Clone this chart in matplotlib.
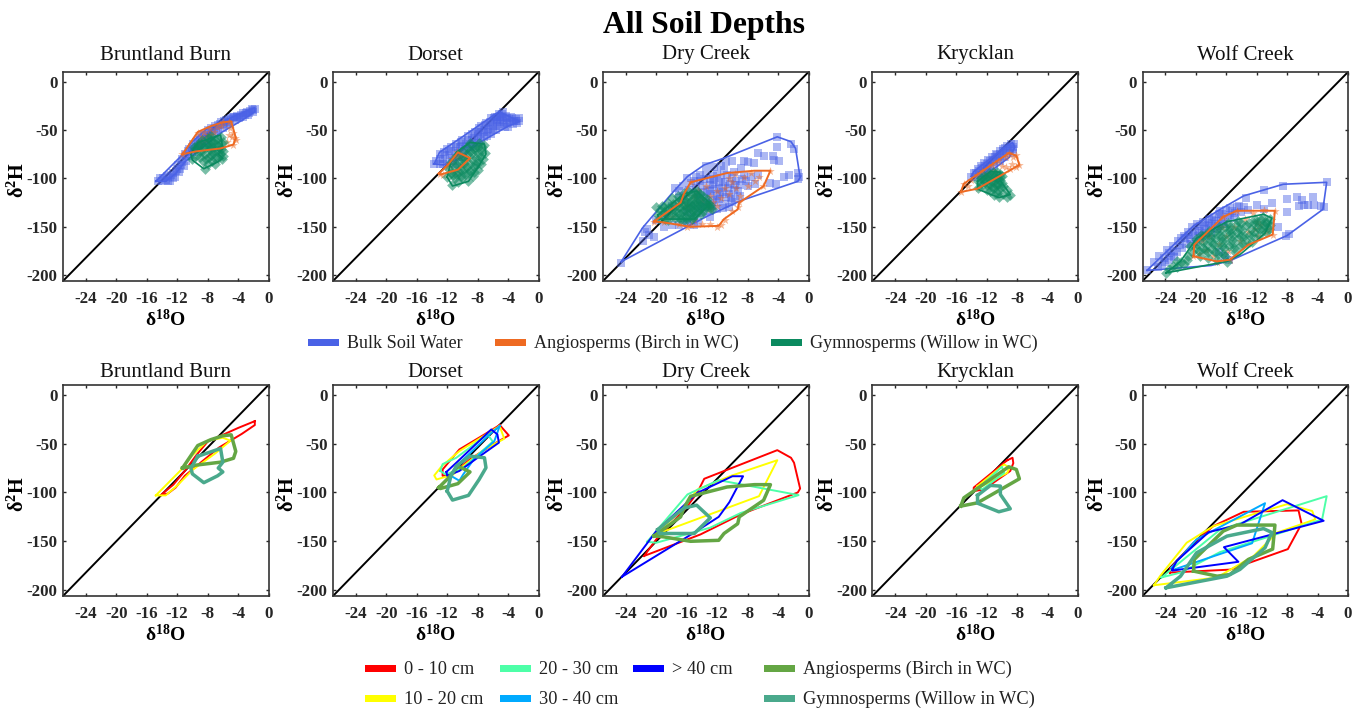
import numpy as np
import matplotlib
matplotlib.use('Agg')
import matplotlib.pyplot as plt
from matplotlib.patches import Rectangle

plt.rcParams['font.family'] = ['Liberation Serif', 'DejaVu Serif']
plt.rcParams['mathtext.default'] = 'regular'
plt.rcParams['axes.unicode_minus'] = False

sites = ['Bruntland Burn', 'Dorset', 'Dry Creek', 'Krycklan', 'Wolf Creek']
x_ticks = [-24, -20, -16, -12, -8, -4, 0]
y_ticks = [0, -50, -100, -150, -200]
depth_labels = ['0 - 10 cm', '10 - 20 cm', '20 - 30 cm', '30 - 40 cm', '> 40 cm']
soil_label = 'Bulk Soil Water'
angio_label = 'Angiosperms (Birch in WC)'
gymno_label = 'Gymnosperms (Willow in WC)'

# ---- samples ----
bb_soil = [(-14.5,-103),(-14,-103),(-13.5,-102),(-13.2,-99),(-13,-103),(-12.8,-96),(-12.5,-94),(-12.3,-98),(-12,-90),(-11.8,-93),(-11.5,-86),(-11.3,-80),(-11,-75),(-10.8,-82),(-10.6,-72),(-10.3,-77),(-10,-68),(-9.8,-73),(-9.5,-62),(-9.3,-68),(-9,-58),(-8.8,-63),(-8.5,-55),(-8.2,-61),(-8,-50),(-7.7,-56),(-7.5,-48),(-7.2,-53),(-7,-46),(-6.7,-50),(-6.4,-44),(-6,-48),(-5.8,-41),(-5.5,-44),(-5.2,-39),(-5,-43),(-4.7,-37),(-4.4,-40),(-4.2,-35),(-3.9,-38),(-3.6,-34),(-3.3,-36),(-3,-32),(-2.7,-34),(-2.4,-30),(-2.1,-31),(-1.8,-28),(-2,-29),
           (-14.2,-100),(-13.8,-100),(-13.4,-97),(-13.2,-103),(-12.6,-100),(-12.2,-92),(-11.9,-86),(-11.6,-90),(-11.3,-83),(-11.1,-87),(-10.9,-77),(-10.5,-70),(-10.1,-73),(-9.9,-64),(-9.6,-70),(-9.2,-60),(-9,-65),(-8.7,-55),(-8.4,-59),(-8.1,-53),(-7.9,-58),(-7.4,-51),(-6.9,-49),(-6.6,-45),(-6.2,-42),(-5.9,-45),(-5.6,-40),(-5.3,-42),(-4.9,-38),(-4.5,-36),(-4.1,-37),(-3.7,-36),(-3.4,-32),(-3.1,-34),(-2.8,-31),(-2.5,-32),(-2.2,-28)]
bb_angio = [(-11.3,-75),(-9.3,-53),(-8.8,-57),(-8.5,-52),(-8,-55),(-7.7,-49),(-7.5,-55),(-7.2,-52),(-6.8,-47),(-6.3,-46),(-6,-42),(-5.2,-42),(-5,-48),(-4.7,-53),(-4.4,-58),(-4.3,-60),(-4.8,-57),(-4.6,-65),(-5.4,-62),(-5.2,-55),(-6.2,-68),(-9,-62),(-8.2,-60)]
bb_gymno = [(-9.8,-68),(-9.3,-64),(-9,-72),(-9.5,-77),(-10,-80),(-8.8,-60),(-8.5,-67),(-8.3,-75),(-8.6,-82),(-8.4,-90),(-8,-58),(-7.9,-64),(-7.7,-70),(-7.8,-78),(-7.9,-85),(-7.5,-56),(-7.3,-62),(-7.2,-68),(-7.3,-74),(-7.4,-82),(-7,-60),(-6.8,-65),(-6.7,-72),(-6.6,-79),(-7,-85),(-6.3,-57),(-6.2,-63),(-6.2,-70),(-6,-77),(-6.1,-80),
            (-9.6,-70),(-9.2,-68),(-9,-78),(-8.9,-64),(-8.7,-72),(-8.2,-64),(-8.2,-80),(-8,-68),(-7.6,-60),(-7.5,-66),(-7.5,-76),(-7.1,-72),(-7,-79),(-6.8,-59),(-6.5,-68),(-6.4,-75),(-6,-62),(-6,-72)]

ds_soil = [(-13.7,-85),(-13.5,-82),(-13,-85),(-13,-75),(-12.6,-80),(-12.4,-73),(-12,-84),(-12,-70),(-11.6,-76),(-11.5,-67),(-11.2,-82),(-11,-72),(-10.8,-64),(-10.5,-78),(-10.3,-68),(-10,-60),(-9.8,-72),(-9.5,-64),(-9.2,-56),(-9,-68),(-8.8,-60),(-8.4,-52),(-8.2,-63),(-8,-56),(-7.8,-48),(-7.5,-60),(-7.3,-52),(-7,-45),(-6.8,-56),(-6.6,-49),(-6.4,-42),(-6.2,-54),(-6,-46),(-5.8,-38),(-5.6,-50),(-5.4,-42),(-5.2,-33),(-5,-46),(-4.9,-38),(-4.7,-31),(-4.5,-44),(-4.3,-35),(-4,-47),(-3.9,-39),(-3.6,-36),(-3.4,-44),(-3,-39),(-2.8,-43),(-2.5,-41),(-2.6,-38),
           (-13,-80),(-12.5,-85),(-12.3,-76),(-11.8,-72),(-11.4,-79),(-11,-85),(-10.9,-68),(-10.6,-74),(-10.2,-62),(-10,-66),(-9.9,-78),(-9.6,-70),(-9.3,-60),(-9,-64),(-8.8,-54),(-8.6,-66),(-8.5,-58),(-8,-52),(-7.9,-62),(-7.6,-46),(-7.7,-54),(-7.2,-50),(-7.1,-57),(-6.9,-43),(-6.7,-52),(-6.5,-46),(-6.3,-38),(-6,-50),(-6,-42),(-5.7,-36),(-5.5,-46),(-5.5,-40),(-5,-36),(-5,-42),(-4.8,-33),(-4.6,-40),(-4.4,-47),(-4.2,-38),(-4.1,-43),(-3.7,-42),(-3.2,-41),(-3.5,-38),(-2.9,-41),(-4.6,-36),(-5.4,-36)]
ds_angio = [(-13,-95),(-12.6,-96),(-12,-88),(-11.8,-85),(-11.4,-80),(-11,-77),(-10.7,-73),(-10.4,-78),(-10,-76),(-9.5,-79),(-9.2,-80),(-10,-86),(-10.6,-91),(-11.4,-92)]
ds_gymno = [(-12,-98),(-11.7,-90),(-11.5,-83),(-11.3,-107),(-11.2,-96),(-11,-88),(-10.8,-77),(-10.6,-104),(-10.5,-93),(-10.3,-83),(-10,-72),(-10,-100),(-9.8,-90),(-9.6,-79),(-9.4,-68),(-9.3,-103),(-9.2,-94),(-9,-85),(-9,-63),(-8.8,-74),(-8.6,-97),(-8.5,-88),(-8.3,-67),(-8.2,-79),(-8,-91),(-7.9,-84),(-7.8,-63),(-7.6,-72),(-7.3,-80),(-7.1,-65),(-7,-74),
            (-11.5,-94),(-11,-100),(-10.8,-95),(-10.8,-85),(-10.3,-90),(-10.2,-97),(-10,-79),(-9.8,-84),(-9.7,-95),(-9.4,-75),(-9.4,-88),(-9,-92),(-9,-72),(-8.8,-80),(-8.5,-70),(-8.5,-93),(-8.3,-85),(-8,-74),(-8,-68),(-7.7,-78),(-7.5,-85),(-7.4,-68)]

dc_soil = [(-24.6,-187),(-21.2,-152),(-21.5,-155),(-21,-158),(-21.7,-165),(-20.3,-161),(-4.1,-57),(-4.1,-67),(-2.3,-64),(-1.9,-70),(-6.7,-74),(-5.8,-77),(-4.7,-77),(-3.9,-82),(-4.5,-81),(-7.1,-84),(-8.5,-82),(-8,-83),(-10,-82),(-10.9,-83),(-11.5,-87),(-13.5,-87),(-12.4,-88),(-1.4,-94),(-1.2,-99),(-2.5,-96),(-3.2,-98),(-1.4,-101),(-4.3,-106),(-5,-105),(-8.5,-96),(-7.6,-98),(-6.7,-96),(-8.9,-89),(-9.8,-93),(-10.7,-96),(-11.1,-91),(-15.9,-100),(-15.5,-105),(-14.8,-98),(-14.2,-96),(-13.5,-95),(-13,-101),(-12.5,-97),(-12,-95),(-11.5,-100),(-14.8,-110),(-14,-108),(-13.3,-112),(-12.5,-106),(-11.8,-110),(-11,-104),(-10.3,-106),(-9.5,-103),(-9,-107),(-8,-108),(-7,-106),(-13.5,-120),(-12.8,-116),(-12,-118),(-11.2,-114),(-10.5,-116),(-9.8,-112),(-9,-118),(-14,-128),(-13,-126),(-12,-124),(-11,-126),(-10,-124),(-16,-135),(-15,-140),(-14,-136),(-13,-134),(-12,-132),(-17,-148),(-16,-146),(-15,-148),(-18,-148),(-19,-150),(-17.5,-110),(-17,-120),(-18,-128),(-19,-138),(-20,-143),
           (-15,-103),(-14.3,-103),(-13.7,-101),(-13,-107),(-12.4,-102),(-11.8,-104),(-11.2,-108),(-10.6,-110),(-10,-100),(-9.7,-107),(-9.3,-113),(-8.8,-101),(-8.2,-103),(-14.5,-116),(-13.8,-114),(-13,-113),(-12.3,-111),(-11.6,-116),(-10.9,-119),(-10.2,-120),(-9.6,-121),(-14.3,-122),(-13.5,-124),(-12.6,-122),(-11.8,-121),(-11.2,-131),(-10.5,-130),(-12.7,-128),(-13.6,-130),(-14.5,-132),(-15.5,-128),(-16.5,-118),(-15.7,-112),(-16.5,-108),(-17,-113),(-16,-145),(-14.5,-145),(-13,-140)]
dc_angio = [(-20.3,-145),(-19,-145),(-18,-140),(-17,-147),(-16,-150),(-15.5,-148),(-15,-143),(-14,-147),(-13,-147),(-12,-150),(-11.5,-148),(-11,-143),(-10,-134),(-9.3,-130),(-9.1,-124),(-16.8,-125),(-16,-128),(-15.5,-104),(-15,-118),(-14.5,-112),(-14,-122),(-13.5,-108),(-13,-118),(-12.5,-124),(-12,-113),(-11.5,-120),(-11,-110),(-10.5,-116),(-10,-104),(-9.5,-110),(-9,-118),(-8.5,-98),(-8,-108),(-7.5,-94),(-7,-103),(-6.5,-98),(-6,-108),(-5,-92),(-13,-132),(-12,-128),(-10.5,-100),(-9.6,-95)]
dc_gymno = [(-19.8,-138),(-19.6,-142),(-20,-130),(-19.3,-128),(-19,-135),(-18.8,-142),(-18.5,-125),(-18.4,-131),(-18.2,-138),(-18,-120),(-17.8,-126),(-17.6,-133),(-17.5,-141),(-17.2,-118),(-17,-124),(-17,-130),(-16.9,-137),(-16.7,-142),(-16.4,-115),(-16.4,-121),(-16.3,-127),(-16.2,-133),(-16.1,-139),(-15.8,-113),(-15.8,-119),(-15.7,-125),(-15.6,-131),(-15.5,-137),(-15.3,-142),(-15.1,-114),(-15.1,-120),(-15,-126),(-15,-132),(-14.9,-138),(-14.7,-113),(-14.5,-120),(-14.4,-126),(-14.3,-132),(-14.1,-137),(-13.9,-118),(-13.7,-124),(-13.5,-130),(-13.2,-125),(-12.9,-127),
            (-19.5,-133),(-19,-130),(-18.7,-137),(-18.4,-143),(-18,-132),(-17.8,-137),(-17.5,-128),(-17.2,-136),(-17,-141),(-16.7,-122),(-16.6,-128),(-16.5,-134),(-16.4,-143),(-16,-124),(-16,-130),(-15.9,-136),(-15.9,-142),(-15.4,-116),(-15.4,-123),(-15.3,-128),(-15.2,-134),(-15.2,-140),(-14.8,-117),(-14.8,-123),(-14.7,-129),(-14.6,-135),(-14.2,-116),(-14.2,-123),(-14.1,-129),(-13.8,-134),(-13.4,-121),(-13.3,-127),(-13,-131),(-12.7,-132)]

kc_soil = [(-14,-98),(-13.7,-94),(-13.5,-98),(-13.2,-90),(-13,-96),(-12.8,-87),(-12.5,-92),(-12.3,-84),(-12,-89),(-11.8,-81),(-11.5,-86),(-11.3,-78),(-11,-83),(-10.8,-75),(-10.5,-80),(-10.3,-72),(-10,-77),(-9.8,-70),(-9.5,-74),(-9.3,-66),(-9,-72),(-8.8,-64),(-8.5,-68),(-8.4,-64),(-8.6,-74),(-12.7,-97),(-11.9,-93),
           (-13.4,-94),(-13,-92),(-12.6,-89),(-12.2,-87),(-11.9,-85),(-11.6,-82),(-11.2,-81),(-10.9,-78),(-10.6,-76),(-10.2,-75),(-9.9,-72),(-9.6,-69),(-9.2,-70),(-8.9,-67),(-8.6,-70),(-9.7,-78),(-10.3,-82),(-11,-87),(-11.8,-91),(-12.4,-94)]
kc_angio = [(-15.4,-114),(-15,-106),(-14.5,-108),(-14,-102),(-13.3,-96),(-12.6,-92),(-12,-96),(-11.3,-86),(-11,-92),(-10.5,-82),(-10,-87),(-9.5,-78),(-9.1,-74),(-8.5,-78),(-8.1,-76),(-7.7,-86),(-8.2,-88),(-8.7,-85),(-9,-90),(-9.5,-88),(-13.2,-110)]
kc_gymno = [(-13.2,-103),(-13.2,-110),(-12.8,-100),(-12.6,-107),(-12.3,-97),(-12.2,-104),(-12,-112),(-11.7,-94),(-11.7,-100),(-11.6,-106),(-11.5,-113),(-11.2,-93),(-11.1,-98),(-11,-104),(-11,-110),(-11,-117),(-10.6,-93),(-10.6,-100),(-10.5,-106),(-10.5,-112),(-10.4,-119),(-10.2,-95),(-10.2,-102),(-9.9,-108),(-9.8,-116),(-9.3,-112),(-8.9,-117),(-9.3,-119),
            (-12.8,-105),(-12.4,-101),(-12,-107),(-12,-100),(-11.5,-97),(-11.4,-103),(-11.3,-109),(-10.9,-95),(-10.8,-101),(-10.8,-107),(-10.3,-98),(-10.3,-109),(-10,-97),(-10,-105),(-10.7,-115)]

wc_soil = [(-26.4,-195),(-25.5,-186),(-25,-192),(-24.8,-180),(-24,-186),(-23.8,-174),(-23.2,-180),(-23,-170),(-22.5,-176),(-22.3,-165),(-21.8,-172),(-21.6,-160),(-21.3,-168),(-21,-155),(-20.8,-163),(-20.5,-150),(-20.3,-158),(-20,-166),(-19.9,-147),(-19.6,-154),(-19.4,-162),(-19,-145),(-18.9,-152),(-18.6,-159),(-18.3,-142),(-18.2,-149),(-18,-156),(-17.6,-140),(-17.5,-147),(-17.2,-152),(-16.8,-134),(-16.7,-142),(-16.3,-147),(-16,-133),(-15.8,-140),(-15.2,-134),(-15,-141),(-14.3,-128),(-14,-135),(-13.2,-133),(-13.4,-120),(-12,-127),(-11,-132),(-10,-125),(-11,-112),(-8.5,-108),(-8,-121),(-8,-135),(-6.7,-119),(-6.5,-128),(-6,-122),(-5.8,-127),(-5.2,-127),(-4.6,-119),(-4.5,-127),(-3.5,-128),(-3.1,-130),(-2.8,-104),(-7.8,-157),(-8.2,-160),(-9.2,-150),(-15.6,-184),(-16.2,-180),(-17,-176),
           (-24.5,-188),(-24.2,-182),(-23.5,-184),(-23.5,-177),(-22.8,-175),(-22.8,-181),(-22.1,-169),(-22,-162),(-21.4,-162),(-20.9,-158),(-20.6,-168),(-20.1,-154),(-19.7,-160),(-19.5,-149),(-19.2,-156),(-18.8,-148),(-18.7,-156),(-18.4,-146),(-18,-151),(-17.9,-143),(-17.3,-144),(-17,-137),(-17.1,-149),(-16.5,-137),(-16.4,-145),(-15.5,-131),(-15.5,-138),(-14.8,-136),(-14.6,-130),(-13.7,-130)]
wc_angio = [(-20.3,-180),(-20.2,-169),(-19.6,-178),(-19.2,-165),(-18.6,-174),(-18.3,-160),(-17.8,-180),(-17.2,-186),(-17,-168),(-16.5,-150),(-16.4,-140),(-16,-160),(-15.8,-175),(-15.5,-184),(-15,-150),(-14.6,-134),(-14.2,-165),(-13.5,-142),(-13.2,-155),(-13.1,-168),(-12.5,-136),(-12.2,-152),(-11.5,-148),(-11,-133),(-10.8,-155),(-10.2,-152),(-9.9,-158),(-9.6,-134),(-12,-145),(-11.8,-160)]
wc_gymno = [(-23.9,-198),(-23.5,-194),(-23,-190),(-22.5,-192),(-22,-186),(-21.5,-188),(-21,-180),(-20.5,-176),(-20,-163),(-20,-172),(-19.5,-180),(-19.3,-158),(-19,-166),(-18.8,-174),(-18.4,-182),(-18.2,-154),(-18,-161),(-17.8,-168),(-17.5,-176),(-17.2,-184),(-17,-150),(-16.8,-158),(-16.6,-165),(-16.3,-172),(-16.1,-180),(-15.9,-186),(-15.8,-146),(-15.5,-153),(-15.3,-160),(-15.1,-168),(-14.8,-176),(-14.5,-144),(-14.3,-152),(-14,-160),(-13.8,-168),(-13.4,-148),(-13,-158),(-12.6,-166),(-12.2,-142),(-12,-150),(-11.7,-158),(-11.2,-140),(-11,-148),(-10.8,-155),(-10.3,-142),(-10.2,-148),
            (-22.5,-185),(-21.2,-184),(-20.7,-170),(-19.8,-168),(-19.6,-175),(-19,-160),(-19,-172),(-18.6,-158),(-18.5,-168),(-18.4,-176),(-18,-165),(-17.9,-173),(-17.6,-155),(-17.5,-162),(-17.2,-170),(-17.1,-178),(-16.9,-154),(-16.7,-162),(-16.5,-170),(-16.4,-178),(-16.2,-150),(-16,-156),(-16,-164),(-15.7,-170),(-15.5,-150),(-15.4,-156),(-15.2,-164),(-15,-172),(-14.7,-148),(-14.6,-155),(-14.4,-162),(-14.2,-170),(-14,-146),(-13.9,-153),(-13.6,-160),(-13.4,-165),(-13,-146),(-12.8,-152),(-12.5,-160),(-12.4,-146),(-12.3,-155),(-11.9,-145),(-11.6,-152),(-11.4,-143),(-11.2,-152),(-10.9,-145),(-10.6,-146),(-10.4,-152)]

# ---- hulls of the same samples ----
bb_soil_hull = [(-14.8,-103),(-11.5,-77),(-10,-62),(-8,-48),(-6,-41),(-4,-34),(-1.8,-27),(-1.8,-31),(-3.5,-40),(-6.5,-54),(-9,-70),(-11,-83),(-12.2,-95),(-13.5,-103)]
bb_angio_hull = [(-11.3,-75),(-9.3,-52),(-7.6,-46),(-6,-42),(-4.9,-41),(-4.3,-58),(-4.6,-65),(-6.3,-69),(-9.5,-72)]
bb_gymno_hull = [(-9.3,-63),(-6.3,-55),(-6,-69),(-6.6,-75),(-6,-79),(-6.7,-83),(-8.5,-90),(-10,-81),(-10.2,-75)]
ds_soil_hull = [(-13.7,-85),(-13,-73),(-10,-57),(-5.2,-31),(-2.5,-41),(-4,-46),(-8,-64),(-10,-78),(-12.5,-86)]
ds_angio_hull = [(-13.1,-95),(-11.8,-85),(-10.6,-73),(-9,-79),(-10.6,-91),(-12.9,-96)]
ds_gymno_hull = [(-12,-98.6),(-11.3,-107.8),(-9.2,-103),(-7.8,-86.7),(-6.9,-74.7),(-7.1,-64.5),(-9,-62.8),(-10.8,-73),(-11.5,-83)]
dc_soil_hull = [(-24.6,-186),(-21.8,-151),(-17.9,-115),(-15.9,-98),(-13.7,-86),(-11.1,-79),(-4.1,-57),(-2.3,-62),(-1.7,-69),(-1.1,-99),(-1.4,-103),(-8.9,-123),(-13.3,-139)]
dc_angio_hull = [(-20.3,-144.5),(-16.8,-125),(-16.4,-116.5),(-15.5,-104),(-10.7,-94.4),(-7.1,-92),(-5,-92),(-5.9,-108),(-9.1,-125),(-9.3,-132),(-11.1,-142),(-11.8,-149),(-15.5,-150),(-19,-145.5)]
dc_gymno_hull = [(-19.8,-138),(-19.6,-142),(-15,-142),(-12.9,-126),(-14.7,-113),(-16.4,-116)]
kc_soil_hull = [(-14,-98),(-13.7,-93),(-9.3,-66),(-8.6,-63),(-8.3,-68),(-9,-78),(-12.4,-98)]
kc_angio_hull = [(-15.4,-114),(-15,-105.5),(-9.1,-73.7),(-8.1,-76.5),(-7.7,-86),(-13.2,-110.6)]
kc_gymno_hull = [(-13.2,-103),(-11.5,-92.8),(-10.2,-93.5),(-10.2,-102),(-8.9,-116.7),(-10.4,-119.8),(-13.2,-111)]
wc_soil_hull = [(-26.4,-195),(-20.3,-149),(-16.8,-132),(-13.7,-118),(-8.5,-106),(-2.8,-104),(-3.3,-132),(-8,-159),(-15.5,-185),(-18,-190)]
wc_angio_hull = [(-20.3,-180.5),(-20.2,-168.6),(-16.4,-139.6),(-14.6,-133.4),(-9.6,-133.4),(-9.9,-158),(-13.1,-168.6),(-15.5,-184),(-17.2,-185.7)]
wc_gymno_hull = [(-23.9,-197.6),(-22,-185.7),(-19.9,-161.8),(-15.9,-144.7),(-11.1,-137),(-10,-141),(-10.9,-156.6),(-14.2,-178.8),(-15.9,-185.7)]

# ---- per depth hulls, bottom row. None where a depth has no samples ----
bb_d1 = [(-1.8,-27),(-1.8,-31),(-3.5,-40),(-6.5,-54),(-9,-70),(-11,-83),(-12.2,-95),(-13.2,-101),(-14.2,-103),(-12.5,-92),(-11,-78),(-9.5,-62),(-8,-48),(-6,-41),(-4,-34)]
bb_d2 = [(-14.8,-103),(-13.5,-103),(-12,-93),(-10,-77),(-7,-60),(-5,-47),(-6,-44),(-8,-47),(-10,-62),(-11.5,-77)]
ds_d1 = [(-5.1,-31),(-3.9,-41.6),(-6,-51),(-9,-66),(-11.3,-81.6),(-12.6,-83),(-12.6,-76.5),(-10.4,-56),(-7.1,-40.6)]
ds_d2 = [(-5.1,-32),(-4.5,-45),(-7.1,-56),(-9.9,-73),(-11.3,-82),(-13.4,-86.7),(-13.7,-82.6),(-12.7,-73),(-10.4,-57.7)]
ds_d3 = [(-12.9,-78),(-12.6,-71),(-10.8,-64.5),(-6.7,-40.6),(-6,-48),(-9.9,-74.7),(-12.2,-81.6)]
ds_d4 = [(-5.1,-32),(-5.8,-47.4),(-8.5,-66),(-9.9,-81.6),(-10.4,-88),(-11.5,-83),(-10.8,-73),(-6.2,-39)]
ds_d5 = [(-12.1,-79),(-10.8,-69.6),(-6.2,-35.5),(-5.4,-40.6),(-5.2,-49),(-8,-64.5),(-10.4,-78),(-12,-83)]
dc_d1 = [(-21.6,-165),(-20,-148),(-16,-115),(-14.6,-100),(-13.7,-86),(-4.1,-56.7),(-2.3,-64.5),(-1.9,-69.6),(-1.1,-96),(-1.4,-100),(-8.9,-122.5),(-14.2,-143)]
dc_d2 = [(-20.1,-143),(-16.4,-115.7),(-14.6,-97),(-10.2,-83),(-4.1,-67),(-6.5,-103.8)]
dc_d3 = [(-21.2,-150.5),(-15.9,-102),(-11.8,-87.4),(-1.3,-102.7),(-8.9,-121),(-12.9,-136),(-20,-151.5)]
dc_d5 = [(-24.5,-186.3),(-20,-139.6),(-14.6,-100.4),(-10,-83.4),(-8.6,-83.4),(-10.4,-110),(-11.8,-125),(-15,-141)]
kc_d1 = [(-9.3,-67),(-8.6,-64.5),(-8.5,-70),(-8.9,-78),(-12.4,-97),(-13.7,-98.6),(-13.7,-95)]
kc_d2 = [(-13.2,-93.5),(-9.7,-71.3),(-9,-74.7),(-9.3,-80),(-13,-95)]
kc_d3 = [(-13,-95),(-10,-73.7),(-9.7,-80),(-12.6,-97)]
wc_d1 = [(-23.4,-182),(-23.4,-178),(-20.3,-151.5),(-17.7,-134.5),(-13.7,-119.8),(-6.5,-118.4),(-6.1,-132),(-6.5,-137.9),(-7.9,-158),(-15.5,-179)]
wc_d2 = [(-25.5,-195),(-24.7,-185.7),(-21.2,-151.5),(-17.7,-134.5),(-8,-112),(-4.7,-119),(-4.3,-127.6),(-9.3,-141),(-12.4,-165),(-17.2,-187)]
wc_d3 = [(-24.5,-187),(-16.8,-138),(-2.8,-103.8),(-3.4,-127.6),(-10.7,-146),(-16.8,-161),(-22,-182)]
wc_d4 = [(-23.2,-177),(-19.9,-148),(-10.9,-111),(-12.6,-152),(-22.9,-179)]
wc_d5 = [(-23.1,-179),(-22.5,-170),(-18.3,-140.6),(-14.2,-132.8),(-8.6,-107.9),(-3.2,-129),(-16.3,-156),(-14.4,-171),(-23.1,-180)]

soil_pts = [bb_soil, ds_soil, dc_soil, kc_soil, wc_soil]
angio_pts = [bb_angio, ds_angio, dc_angio, kc_angio, wc_angio]
gymno_pts = [bb_gymno, ds_gymno, dc_gymno, kc_gymno, wc_gymno]
soil_hulls = [bb_soil_hull, ds_soil_hull, dc_soil_hull, kc_soil_hull, wc_soil_hull]
angio_hulls = [bb_angio_hull, ds_angio_hull, dc_angio_hull, kc_angio_hull, wc_angio_hull]
gymno_hulls = [bb_gymno_hull, ds_gymno_hull, dc_gymno_hull, kc_gymno_hull, wc_gymno_hull]
depth_hulls = [[bb_d1, bb_d2, None, None, None],
               [ds_d1, ds_d2, ds_d3, ds_d4, ds_d5],
               [dc_d1, dc_d2, dc_d3, None, dc_d5],
               [kc_d1, kc_d2, kc_d3, None, None],
               [wc_d1, wc_d2, wc_d3, wc_d4, wc_d5]]

c_soil = '#4A62E6'
c_angio = '#EE6A22'
c_gymno = '#0B8A5F'
c_angio2 = '#64A644'
c_gymno2 = '#4AA98C'
depth_colors = ['#FF0000', '#FFFF00', '#4DFFA8', '#00AAFF', '#0000FF']

W, H = 1365, 709
lefts = [63, 333, 603, 872.5, 1142.5]
ax_w = 205.5
rows = [(72, 281), (385, 596)]
title_pads = [9, 5.5]


def closed(pts):
    a = np.array(pts)
    return np.r_[a[:, 0], a[0, 0]], np.r_[a[:, 1], a[0, 1]]


def make_ax(fig, left, row, title):
    top, bottom = rows[row]
    ax = fig.add_axes([left / W, 1 - bottom / H, ax_w / W, (bottom - top) / H])
    ax.set_xlim(-27, 0)
    ax.set_ylim(-206, 10)
    ax.plot([-27, 0], [-206, 10], color='k', lw=1.4, zorder=1)
    ax.set_xticks(x_ticks)
    ax.set_yticks(y_ticks)
    ax.tick_params(direction='in', length=2.5, width=1, top=True, right=True,
                   labelsize=12.2, colors='#262626')
    ax.tick_params(axis='x', pad=7)
    ax.tick_params(axis='y', pad=4)
    for lab in ax.get_xticklabels() + ax.get_yticklabels():
        lab.set_fontweight('bold')
    for s in ax.spines.values():
        s.set_linewidth(1.2)
        s.set_color('#333333')
    ax.set_title(title, fontsize=15, pad=title_pads[row], color='#111111', y=1.0)
    ax.set_xlabel('δ$^{18}$O', fontsize=14, fontweight='bold', labelpad=1.5)
    ax.set_ylabel('δ$^{2}$H', fontsize=14.5, fontweight='bold')
    ax.yaxis.set_label_coords(-0.165, 0.48)
    return ax


fig = plt.figure(figsize=(W / 100, H / 100), dpi=100)
fig.text(704 / W, 1 - 25 / H, 'All Soil Depths', ha='center', va='center',
         fontsize=22.8, fontweight='bold')

for i, site in enumerate(sites):
    # top row, samples + hulls
    ax = make_ax(fig, lefts[i], 0, site)
    pts = np.array(soil_pts[i])
    ax.scatter(pts[:, 0], pts[:, 1], s=30, marker='s', color=c_soil, alpha=0.45, lw=0, zorder=2)
    ax.plot(*closed(soil_hulls[i]), color=c_soil, lw=1.2, zorder=3)
    pts = np.array(angio_pts[i])
    ax.scatter(pts[:, 0], pts[:, 1], s=42, marker='*', color=c_angio, alpha=0.5, lw=0, zorder=4)
    pts = np.array(gymno_pts[i])
    ax.scatter(pts[:, 0], pts[:, 1], s=30, marker='D', color=c_gymno, alpha=0.55, lw=0, zorder=5)
    ax.plot(*closed(gymno_hulls[i]), color=c_gymno, lw=1.2, zorder=6)
    ax.plot(*closed(angio_hulls[i]), color=c_angio, lw=1.4, zorder=7)

    # bottom row, depth hulls
    ax = make_ax(fig, lefts[i], 1, site)
    for hull, col in zip(depth_hulls[i], depth_colors):
        if hull is not None:
            ax.plot(*closed(hull), color=col, lw=1.4, zorder=3)
    ax.plot(*closed(angio_hulls[i]), color=c_angio2, lw=2.5, zorder=4)
    ax.plot(*closed(gymno_hulls[i]), color=c_gymno2, lw=2.5, zorder=5)


def key(x, y, label, color, size, w=31):
    fig.add_artist(Rectangle((x / W, 1 - (y + 3.5) / H), w / W, 7 / H, color=color,
                             transform=fig.transFigure, lw=0))
    fig.text((x + w + 8) / W, 1 - (y + 1) / H, label, ha='left', va='center',
             fontsize=size, color='#222222')


key(308, 342, soil_label, c_soil, 13.1)
key(495, 342, angio_label, c_angio, 13.1)
key(771, 342, gymno_label, c_gymno, 13.1)

key(365, 668, depth_labels[0], depth_colors[0], 13.2)
key(365, 698, depth_labels[1], depth_colors[1], 13.2)
key(500, 668, depth_labels[2], depth_colors[2], 13.2)
key(500, 698, depth_labels[3], depth_colors[3], 13.2)
key(633, 668, depth_labels[4], depth_colors[4], 13.2)
key(764, 668, angio_label, c_angio2, 13.2)
key(764, 698, gymno_label, c_gymno2, 13.2)

fig.savefig('out.png', dpi=100)
